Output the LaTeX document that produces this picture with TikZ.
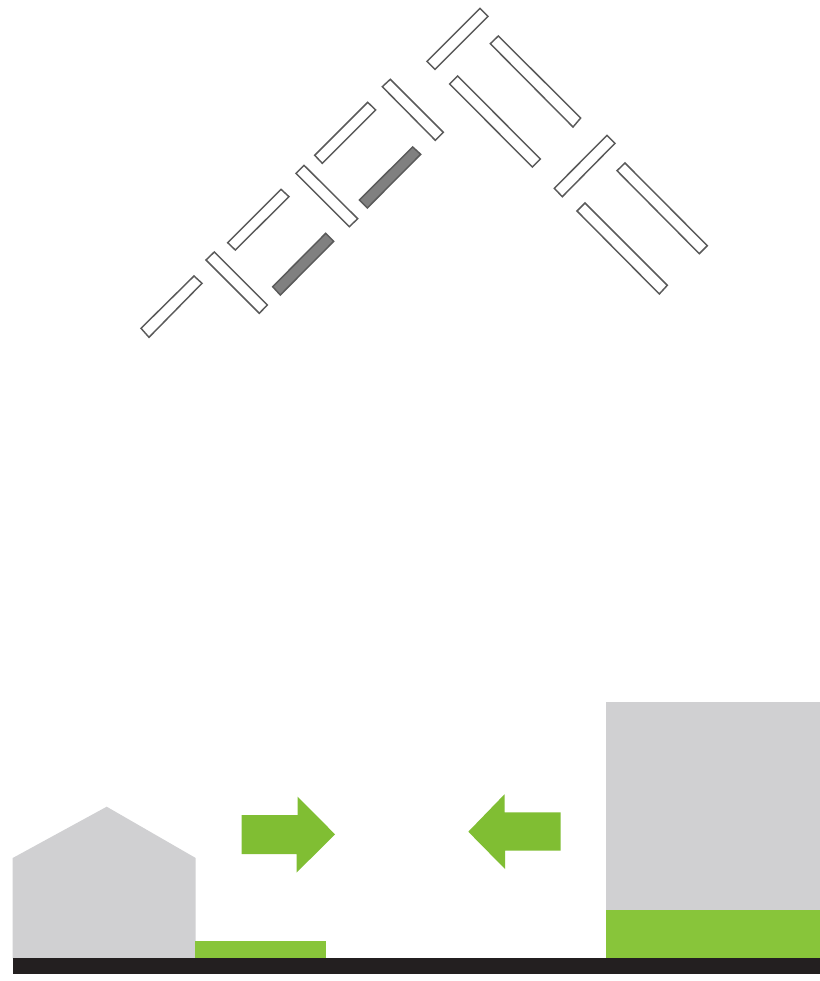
\documentclass[tikz,border=0pt]{standalone}
\definecolor{massgray}{HTML}{D0D0D2}
\definecolor{leaf}{HTML}{80BE33}
\definecolor{leaflight}{HTML}{88C53A}
\definecolor{groundblack}{HTML}{231F20}
\definecolor{slat}{HTML}{5A5A5A}
\definecolor{slatdark}{HTML}{808080}
\tikzset{
  panel/.style={draw=slat,fill=white,line width=1.1pt,line join=miter},
  darkpanel/.style={draw=slat,fill=slatdark,line width=1.1pt,line join=miter},
  mass/.style={fill=massgray},
  greenbar/.style={fill=leaflight},
  greenarrow/.style={fill=leaf},
  groundbar/.style={fill=groundblack}
}
\begin{document}
\begin{tikzpicture}[x=0.75pt,y=-0.75pt]
\useasboundingbox (0,0) rectangle (820,981);
\fill[white] (0,0) rectangle (820,981);
% slats
\draw[panel] (141,328.3) -- (194,276) -- (202,283.3) -- (149,337.3) -- cycle;
\draw[panel] (206,260) -- (214.3,252) -- (267.3,305) -- (259.3,313.3) -- cycle;
\draw[panel] (227.7,242.7) -- (281,189.3) -- (289,196.7) -- (235.3,250) -- cycle;
\draw[darkpanel] (272.7,286.7) -- (325.7,233.3) -- (333.7,241.3) -- (280.3,295) -- cycle;
\draw[panel] (296,173.3) -- (304,165.3) -- (357.7,218.7) -- (349.3,226.7) -- cycle;
\draw[panel] (314.7,155.3) -- (367.7,102.3) -- (375.7,110) -- (322.3,163.3) -- cycle;
\draw[darkpanel] (359.3,200) -- (412.7,147) -- (420.7,154.3) -- (367.3,208) -- cycle;
\draw[panel] (382.3,86.7) -- (390.3,79.3) -- (443.3,132.3) -- (435.3,140.3) -- cycle;
\draw[panel] (427,61.3) -- (480,8.3) -- (488,16.3) -- (435,69.3) -- cycle;
\draw[panel] (490.3,43.7) -- (498.3,36) -- (580.7,118) -- (573,127) -- cycle;
\draw[panel] (449.7,84) -- (457.7,76) -- (540.3,159) -- (532.3,167) -- cycle;
\draw[panel] (554.3,188.3) -- (607,135.3) -- (615,143.3) -- (562.3,196.7) -- cycle;
\draw[panel] (617,170.7) -- (625,163) -- (707.3,245.7) -- (699.3,253.7) -- cycle;
\draw[panel] (577,211) -- (585,203) -- (667.3,285.3) -- (659.3,294) -- cycle;
% masses
\fill[mass] (12.7,858) -- (106.7,806.7) -- (195.7,858) -- (195.7,958.5) -- (12.7,958.5) -- cycle;
\fill[mass] (606,701.7) rectangle (820,910);
% green
\fill[greenbar] (194.5,940.7) rectangle (326,958.5);
\fill[greenbar] (606,909.5) rectangle (820,958.5);
\fill[greenarrow] (241.7,815) -- (297.7,815) -- (297.7,796.7) -- (335,834.3) -- (296.5,872.7) -- (296.5,854) -- (241.7,854) -- cycle;
\fill[greenarrow] (560.7,812.3) -- (504.5,812.3) -- (504.5,794.3) -- (468.3,831.7) -- (505,869) -- (505,850.7) -- (560.7,850.7) -- cycle;
% ground
\fill[groundbar] (13,958) rectangle (820,974);
\end{tikzpicture}
\end{document}
